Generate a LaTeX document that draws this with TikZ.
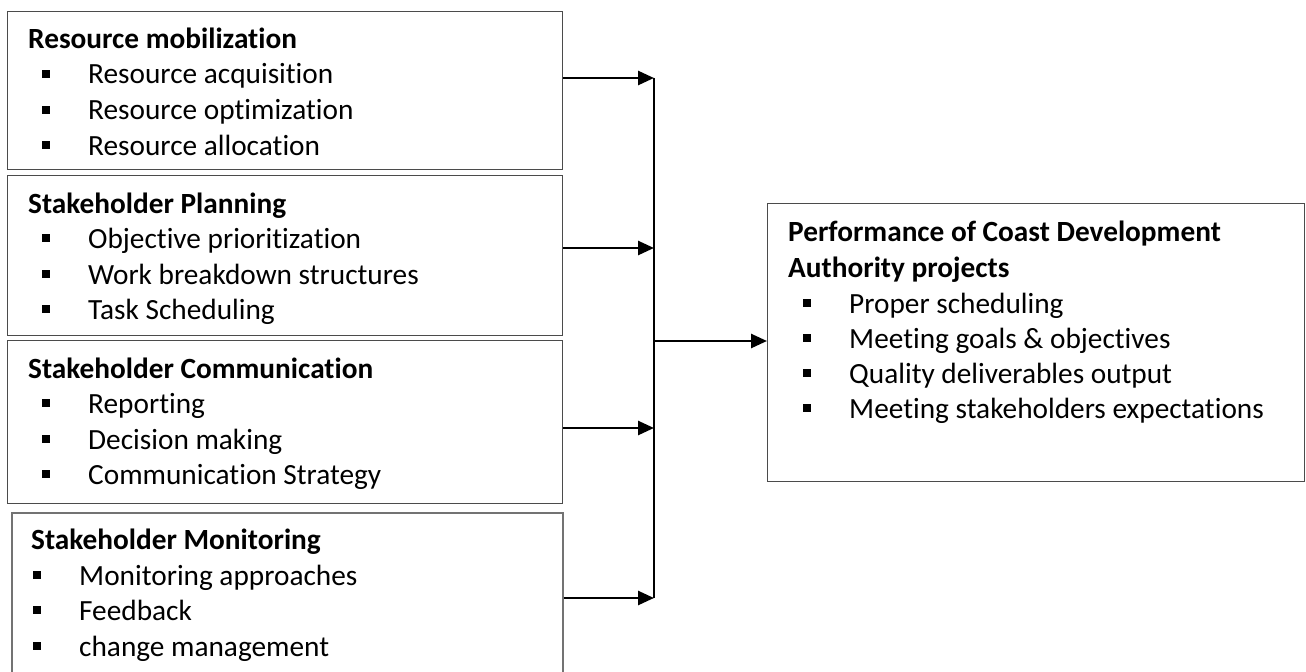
\documentclass[tikz,border=0pt]{standalone}
\usepackage{fontspec}
\setmainfont{Carlito}[Ligatures=NoCommon]
\usetikzlibrary{arrows.meta}
\definecolor{boxgray}{RGB}{75,75,75}
\definecolor{boxgrayl}{RGB}{115,115,115}
\tikzset{
  box/.style={draw=boxgray, line width=1.1bp, inner sep=0pt, anchor=north west},
  lbl/.style={anchor=base west, inner sep=0pt, font=\fontsize{29.3bp}{35bp}\selectfont},
  ttl/.style={anchor=base west, inner sep=0pt, font=\fontsize{29.3bp}{35bp}\selectfont\bfseries},
  bul/.style={fill=black, draw=none, minimum size=8bp, inner sep=0pt},
  arr/.style={line width=2.6bp, -{Triangle[length=16bp,width=14bp]}},
  trunk/.style={line width=1.1bp}
}
\begin{document}
\begin{tikzpicture}[x=1bp,y=-1bp]
\clip (0,0) rectangle (1306,671);
\fill[white] (0,0) rectangle (1306,671);

% left boxes
\node[box, minimum width=555bp, minimum height=158bp] (B1) at (7,11) {};
\node[box, minimum width=555bp, minimum height=160bp] (B2) at (7,175) {};
\node[box, minimum width=555bp, minimum height=163bp] (B3) at (7,340) {};
\node[box, draw=boxgrayl, line width=1.6bp, minimum width=551bp, minimum height=220bp] (B4) at (11,512) {};
% right box
\node[box, minimum width=537bp, minimum height=278bp] (R) at (767,203) {};

% box 1
\node[ttl] (t1) at (28,49) {Resource mobilization};
\node[bul] (b1a) at (46,74) {};
\node[lbl] (t1a) at (88,84) {Resource acquisition};
\node[bul] (b1b) at (46,110) {};
\node[lbl] (t1b) at (88,120) {Resource optimization};
\node[bul] (b1c) at (46,145) {};
\node[lbl] (t1c) at (88,155) {Resource allocation};

% box 2
\node[ttl] (t2) at (28,213) {Stakeholder Planning};
\node[bul] (b2a) at (46,238) {};
\node[lbl] (t2a) at (88,248) {Objective prioritization};
\node[bul] (b2b) at (46,274) {};
\node[lbl] (t2b) at (88,284) {Work breakdown structures};
\node[bul] (b2c) at (46,309) {};
\node[lbl] (t2c) at (88,319) {Task Scheduling};

% box 3
\node[ttl] (t3) at (28,378) {Stakeholder Communication};
\node[bul] (b3a) at (46,403) {};
\node[lbl] (t3a) at (88,413) {Reporting};
\node[bul] (b3b) at (46,439) {};
\node[lbl] (t3b) at (88,449) {Decision making};
\node[bul] (b3c) at (46,474) {};
\node[lbl] (t3c) at (88,484) {Communication Strategy};

% box 4
\node[ttl] (t4) at (31,549) {Stakeholder Monitoring};
\node[bul] (b4a) at (37,575) {};
\node[lbl] (t4a) at (79,585) {Monitoring approaches};
\node[bul] (b4b) at (37,610) {};
\node[lbl] (t4b) at (79,620) {Feedback};
\node[bul] (b4c) at (37,646) {};
\node[lbl] (t4c) at (79,656) {change management};

% right box text
\node[ttl] (r0) at (788,241) {Performance of Coast Development};
\node[ttl] (r1) at (788,277) {Authority projects};
\node[bul] (rb1) at (807,303) {};
\node[lbl] (ra) at (849,313) {Proper scheduling};
\node[bul] (rb2) at (807,338) {};
\node[lbl] (rb) at (849,348) {Meeting goals \& objectives};
\node[bul] (rb3) at (807,373) {};
\node[lbl] (rc) at (849,383) {Quality deliverables output};
\node[bul] (rb4) at (807,408) {};
\node[lbl] (rd) at (849,418) {Meeting stakeholders expectations};

% connectors
\coordinate (j1) at (654,78);
\coordinate (j2) at (654,248);
\coordinate (j3) at (654,428);
\coordinate (j4) at (654,598);
\coordinate (jc) at (654,341);
\draw[trunk] (j1) -- (j4);
\draw[arr] (B1.east |- j1) -- (j1);
\draw[arr] (B2.east |- j2) -- (j2);
\draw[arr] (B3.east |- j3) -- (j3);
\draw[arr] (B4.east |- j4) -- (j4);
\draw[arr] (jc) -- (R.west |- jc);
\end{tikzpicture}
\end{document}
